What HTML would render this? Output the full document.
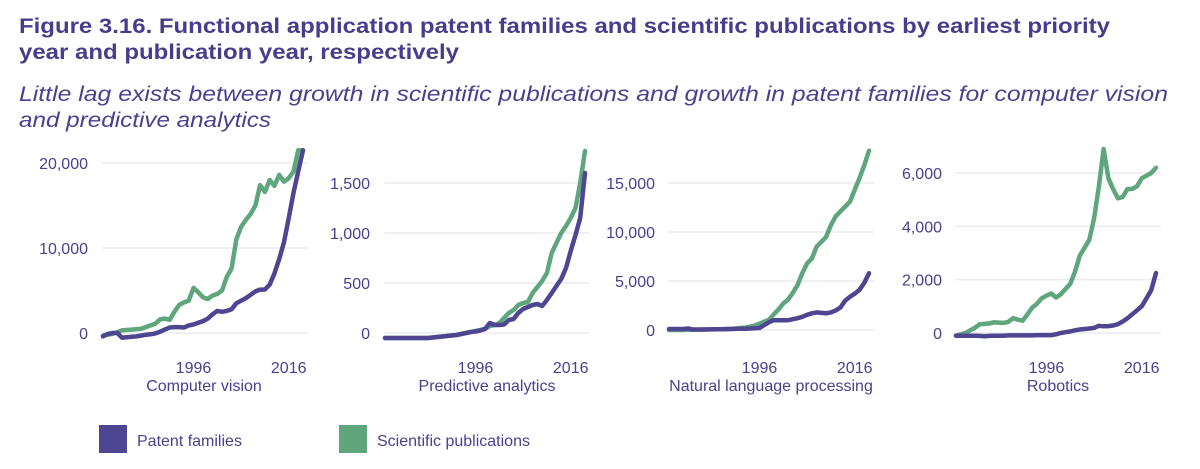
<!DOCTYPE html>
<html><head><meta charset="utf-8"><style>
html,body{margin:0;padding:0;background:#fff;}
svg{display:block;font-family:"Liberation Sans",Arial,sans-serif;}
</style></head><body>
<svg id="chart" width="1200" height="469" viewBox="0 0 1200 469">
<g fill="#483d8b" font-weight="bold" font-size="21">
<text x="19" y="33" textLength="1091" lengthAdjust="spacingAndGlyphs">Figure 3.16. Functional application patent families and scientific publications by earliest priority</text>
<text x="19" y="59" textLength="440" lengthAdjust="spacingAndGlyphs">year and publication year, respectively</text>
</g>
<g fill="#4a4090" font-style="italic" font-size="21">
<text x="19" y="101" textLength="1149" lengthAdjust="spacingAndGlyphs">Little lag exists between growth in scientific publications and growth in patent families for computer vision</text>
<text x="19" y="127" textLength="252" lengthAdjust="spacingAndGlyphs">and predictive analytics</text>
</g>
<g id="panels"></g>
<g>
<rect x="99" y="425" width="28" height="28" fill="#4e4691"/>
<text x="137" y="446" font-size="16" fill="#4a4090">Patent families</text>
<rect x="339" y="425" width="28" height="28" fill="#5fa67c"/>
<text x="377" y="446" font-size="16" fill="#4a4090">Scientific publications</text>
</g>
</svg>
<script>
const years = [1977,1978,1979,1980,1981,1982,1983,1984,1985,1986,1987,1988,1989,1990,1991,1992,1993,1994,1995,1996,1997,1998,1999,2000,2001,2002,2003,2004,2005,2006,2007,2008,2009,2010,2011,2012,2013,2014,2015,2016,2017,2018,2019];
const panelNames = ["Computer vision","Predictive analytics","Natural language processing","Robotics"];
const xTickLabels = [1996, 2016];
const cvPatent = [-400,-100,0,0,-550,-500,-450,-400,-300,-200,-150,-50,150,400,650,700,700,650,900,1000,1200,1400,1700,2200,2600,2500,2600,2800,3500,3800,4100,4500,4900,5100,5100,5700,7000,8700,10700,13500,16500,19000,21500];
const cvScience = [-300,-200,-100,100,300,350,400,450,500,700,900,1100,1600,1700,1550,2500,3300,3600,3800,5300,4800,4200,4000,4400,4600,5000,6600,7600,11000,12500,13300,14000,15000,17400,16600,18000,17300,18600,17800,18200,19000,21500,21500];
const paPatent = [-50,-50,-50,-50,-50,-50,-50,-50,-50,-50,-45,-40,-35,-30,-25,-20,-10,0,10,15,25,40,100,80,80,85,130,140,200,240,260,280,290,270,330,400,470,540,650,820,980,1150,1600];
const paScience = [-50,-50,-50,-50,-50,-50,-50,-50,-50,-50,-45,-40,-35,-30,-25,-20,-10,0,10,20,30,40,70,80,100,150,200,230,280,300,310,400,460,520,600,800,900,1000,1070,1150,1250,1500,1820];
const nlpPatent = [100,100,100,100,150,50,50,50,50,60,70,80,90,100,110,120,130,150,180,200,500,800,1000,1000,1000,1000,1100,1200,1350,1550,1700,1800,1750,1700,1800,2000,2300,3000,3400,3700,4100,4800,5800];
const nlpScience = [0,0,0,0,20,30,40,50,60,70,80,90,100,100,150,200,250,350,450,650,850,1050,1600,2100,2700,3100,3800,4600,5800,6800,7300,8500,9000,9500,10700,11600,12100,12600,13100,14300,15500,16800,18300];
const robPatent = [-100,-100,-100,-100,-100,-110,-120,-110,-100,-100,-100,-90,-90,-90,-90,-90,-90,-80,-80,-80,-80,-50,0,30,60,100,130,150,170,190,270,250,260,280,330,430,550,700,850,1000,1300,1600,2250];
const robScience = [-100,-50,0,100,200,330,340,360,400,390,380,420,560,500,460,700,950,1100,1300,1400,1480,1330,1450,1650,1850,2300,2900,3200,3500,4300,5500,6900,5800,5400,5050,5100,5400,5400,5500,5800,5900,6000,6200];
const cvTicks = [0,10000,20000];
const paTicks = [0,500,1000,1500];
const nlpTicks = [0,5000,10000,15000];
const robTicks = [0,2000,4000,6000];

const panels = [
 {name:panelNames[0], slug:"computer-vision", left:103, y0:333, yTop:163, tickTop:20000, ticks:cvTicks, labelX:88, nameX:204, patent:cvPatent, science:cvScience},
 {name:panelNames[1], slug:"predictive-analytics", left:385, y0:333, yTop:183, tickTop:1500, ticks:paTicks, labelX:370, nameX:487, patent:paPatent, science:paScience},
 {name:panelNames[2], slug:"nlp", left:669, y0:330, yTop:183, tickTop:15000, ticks:nlpTicks, labelX:655, nameX:771, patent:nlpPatent, science:nlpScience},
 {name:panelNames[3], slug:"robotics", left:956, y0:333, yTop:173, tickTop:6000, ticks:robTicks, labelX:942, nameX:1058, patent:robPatent, science:robScience}
];
const NS="http://www.w3.org/2000/svg";
const root=document.getElementById('panels');
function mk(tag,attrs,parent){const e=document.createElementNS(NS,tag);for(const k in attrs)e.setAttribute(k,attrs[k]);parent.appendChild(e);return e;}
const W=200, y0Year=years[0], y1Year=years[years.length-1];
panels.forEach(p=>{
  const g=mk('g',{},root);
  
  
  const xs=yr=>p.left+(yr-y0Year)/(y1Year-y0Year)*W;
  const ys=v=>p.y0-(v/p.tickTop)*(p.y0-p.yTop);
  p.ticks.forEach(t=>{
    const gl=mk('line',{x1:p.left-1,x2:p.left+W+5,y1:ys(t),y2:ys(t),stroke:'#ececf0','stroke-width':1.5},g);
    
    
    const tl=mk('text',{x:p.labelX,y:ys(t)+6,'text-anchor':'end','font-size':16,fill:'#4a4090'},g);
    tl.textContent=t.toLocaleString('en-US');
    
    
  });
  xTickLabels.forEach(yr=>{
    const xl=mk('text',{x:xs(yr),y:373,'text-anchor':'middle','font-size':16,fill:'#4a4090'},g);
    xl.textContent=yr;
    
    
  });
  const nm=mk('text',{x:p.nameX,y:391,'text-anchor':'middle','font-size':16,fill:'#4a4090'},g);
  nm.textContent=p.name;
  
  
  [['science','#5fa67c'],['patent','#4e4691']].forEach(([k,c])=>{
    const d=p[k].map((v,i)=>(i?'L':'M')+xs(years[i]).toFixed(1)+','+ys(v).toFixed(1)).join('');
    const ln=mk('path',{d:d,fill:'none',stroke:c,'stroke-width':4.5,'stroke-linejoin':'round','stroke-linecap':'round'},g);
    
    
  });
});
</script>
</body></html>
